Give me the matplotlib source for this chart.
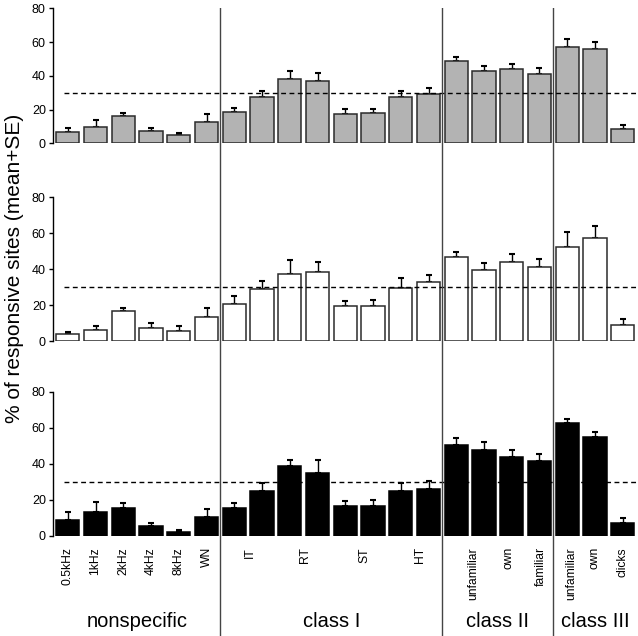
import numpy as np
import matplotlib.pyplot as plt

# Mean and mean+SE (upper whisker end) for each panel, 21 stimuli
TOP_MEAN = [6.5, 9.9, 16.0, 7.1, 4.7, 12.4, 18.6, 27.3, 38.1, 36.9, 17.6,
            18.2, 27.5, 29.4, 48.6, 43.1, 43.9, 41.3, 56.9, 56.1, 8.3]
TOP_UPPER = [9.1, 13.8, 17.8, 9.1, 6.3, 17.2, 20.9, 31.0, 42.7, 41.5, 20.1,
             20.1, 30.8, 32.8, 51.4, 45.8, 46.8, 44.8, 61.8, 60.1, 10.7]

MID_MEAN = [3.7, 5.9, 16.4, 7.4, 5.3, 13.3, 20.8, 29.1, 37.4, 38.3, 19.2,
            19.5, 29.6, 33.0, 46.6, 39.2, 43.8, 41.1, 52.1, 57.3, 9.0]
MID_UPPER = [4.8, 8.3, 18.4, 10.1, 8.3, 18.6, 25.2, 33.5, 45.1, 43.8, 22.1,
             23.0, 35.2, 36.5, 49.4, 43.3, 48.3, 45.3, 60.8, 63.9, 12.2]

BOT_MEAN = [9.0, 13.5, 15.4, 5.6, 2.2, 10.8, 15.6, 25.2, 39.1, 35.2, 16.7,
            16.5, 24.8, 26.1, 50.6, 47.6, 43.7, 41.7, 62.6, 55.2, 7.4]
BOT_UPPER = [13.5, 18.7, 18.1, 7.0, 3.1, 14.8, 18.1, 29.4, 42.0, 42.4, 19.3,
             19.8, 29.4, 30.4, 54.3, 52.0, 47.6, 45.6, 65.2, 57.6, 9.8]

THRESHOLD = 30

TICK_LABELS = ["0.5kHz", "1kHz", "2kHz", "4kHz", "8kHz", "WN",
               "IT", "RT", "ST", "HT",
               "unfamiliar", "own", "familiar",
               "unfamiliar", "own", "clicks"]
TICK_POS = [0, 1, 2, 3, 4, 5, 6.55, 8.55, 10.7, 12.7,
            14.6, 15.9, 17.05, 18.15, 19.0, 20.0]

GROUP_LABELS = ["nonspecific", "class I", "class II", "class III"]
GROUP_BOUNDS = [5.5, 13.5, 17.5]
GROUP_CENTERS = [2.5, 9.5, 15.5, 19.0]

Y_LABEL = "% of responsive sites (mean+SE)"

FIG_W, FIG_H = 638, 636
X_MIN, X_MAX = -0.515, 20.55
LEFT_PX = 53.5
GROUP_BASELINE_PX = 627

# (top px, bottom px) of each panel
PANELS_PX = [(8.3, 143.3), (197, 341), (392, 536)]
FACE_COLORS = ["#b3b3b3", "white", "black"]
EDGE_COLORS = ["#2b2b2b", "#2b2b2b", "black"]

plt.rcParams["font.family"] = ["Liberation Sans", "DejaVu Sans"]

fig = plt.figure(figsize=(FIG_W / 100, FIG_H / 100), dpi=100)

left = LEFT_PX / FIG_W
width = 1 - left
bg_top = PANELS_PX[0][0]

# overlay axes for the full-height group separators and group names
bg = fig.add_axes([left, 0, width, 1 - bg_top / FIG_H], zorder=5)
bg.set_xlim(X_MIN, X_MAX)
bg.set_ylim(0, 1)
bg.axis("off")
bg.patch.set_alpha(0)
for b in GROUP_BOUNDS:
    bg.axvline(b, color="#444444", linewidth=1.0)

group_y = (FIG_H - GROUP_BASELINE_PX) / (FIG_H - bg_top)
for label, cx in zip(GROUP_LABELS, GROUP_CENTERS):
    bg.text(cx, group_y, label, fontsize=14.5, ha="center", va="baseline")

x = np.arange(len(TOP_MEAN))
series = [(TOP_MEAN, TOP_UPPER), (MID_MEAN, MID_UPPER), (BOT_MEAN, BOT_UPPER)]

axes = []
for (top_px, bot_px), (mean, upper), fc, ec in zip(PANELS_PX, series, FACE_COLORS, EDGE_COLORS):
    ax = fig.add_axes([left, 1 - bot_px / FIG_H, width, (bot_px - top_px) / FIG_H])
    ax.patch.set_alpha(0)
    mean = np.array(mean)
    se = np.array(upper) - mean
    ax.bar(x, mean, width=0.84, color=fc, edgecolor=ec, linewidth=1.1, zorder=2)
    ax.errorbar(x, mean, yerr=[np.zeros_like(se), se], fmt="none", ecolor="black",
                elinewidth=1.0, capsize=2.5, capthick=1.5, zorder=1)
    ax.axhline(THRESHOLD, xmin=0.018, color="black", linewidth=1.0,
               linestyle=(0, (3.5, 2.5)), zorder=3)
    ax.set_xlim(X_MIN, X_MAX)
    ax.set_ylim(0, 80)
    ax.set_yticks([0, 20, 40, 60, 80])
    ax.tick_params(axis="y", length=3, width=1, pad=2.5, labelsize=9)
    for s in ["top", "right", "bottom"]:
        ax.spines[s].set_visible(False)
    ax.spines["left"].set_linewidth(1.0)
    ax.set_xticks([])
    axes.append(ax)

bottom_ax = axes[-1]
bottom_ax.set_xticks(TICK_POS)
bottom_ax.set_xticklabels(TICK_LABELS, rotation=90, fontsize=8.7, va="top")
bottom_ax.tick_params(axis="x", length=0, pad=8)

fig.text(15 / FIG_W, 1 - 268 / FIG_H, Y_LABEL, rotation=90, fontsize=15,
         ha="center", va="center")

fig.savefig("out.png", dpi=100)
